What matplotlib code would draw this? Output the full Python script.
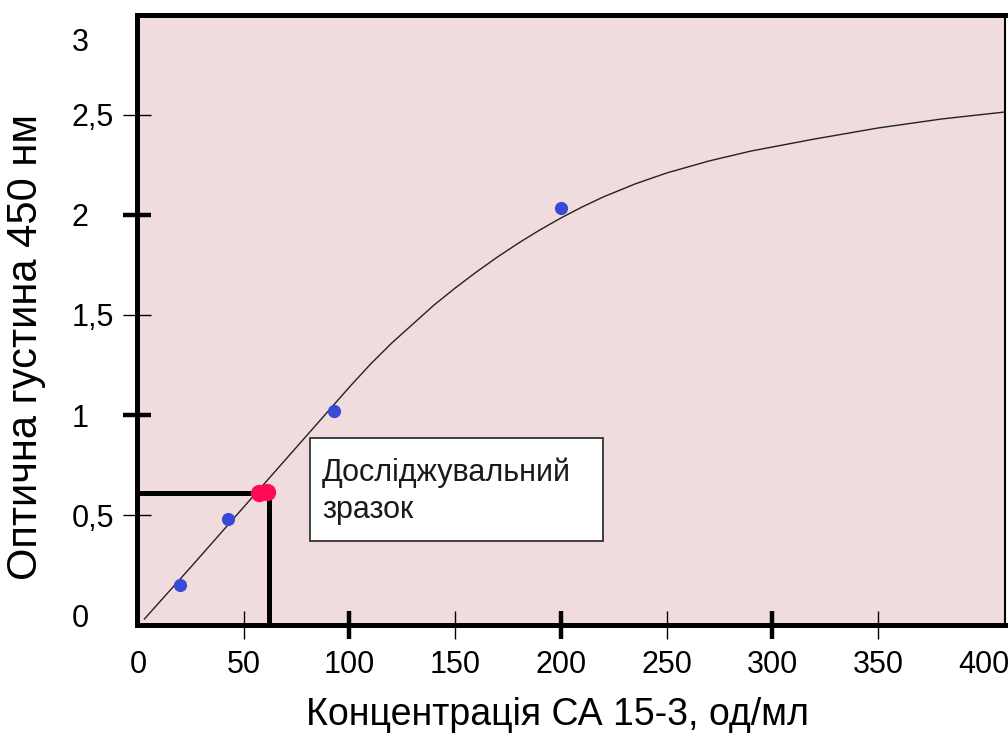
import matplotlib
matplotlib.use("Agg")
import matplotlib.pyplot as plt
from matplotlib.patches import Rectangle

plt.rcParams["font.family"] = ["Liberation Sans", "DejaVu Sans"]

# калібрувальна крива
curve_conc = [3, 25, 50, 75, 100, 110, 120, 130, 140, 150, 160, 170, 180, 190,
              200, 210, 220, 235, 250, 270, 290, 320, 350, 380, 410]
curve_od = [-0.02, 0.24, 0.54, 0.84, 1.14, 1.255, 1.36, 1.455, 1.55, 1.635,
            1.715, 1.79, 1.86, 1.925, 1.985, 2.04, 2.09, 2.155, 2.21, 2.27,
            2.32, 2.38, 2.435, 2.48, 2.515]

# стандарти
std_conc = [20, 42.5, 92.5, 200]
std_od = [0.15, 0.48, 1.02, 2.035]

# досліджуваний зразок
sample_conc = [57, 61]
sample_od = [0.61, 0.615]
sample_x = 62
sample_y = 0.61

x_major = [0, 100, 200, 300, 400]
x_minor = [50, 150, 250, 350]
y_major = [0, 1, 2]
y_minor = [0.5, 1.5, 2.5]

fig = plt.figure(figsize=(10.08, 7.38), dpi=100)
ax = fig.add_axes([0.1359, 0.1531, 0.8611, 0.8266])
ax.set_facecolor("#f0dcdc")
ax.set_xlim(-0.5, 410)
ax.set_ylim(-0.05, 3.0)

ax.plot(curve_conc, curve_od, color="#222222", lw=1.0, zorder=3)
ax.plot(std_conc, std_od, "o", color="#3a48d6", ms=9.5, mec="none", zorder=4)

# лінії від зразка до осей
ax.plot([-0.5, sample_x], [sample_y, sample_y], color="black", lw=3.6,
        solid_capstyle="butt", zorder=3)
ax.plot([sample_x, sample_x], [-0.05, sample_y], color="black", lw=3.6,
        solid_capstyle="butt", zorder=3)
ax.plot(sample_conc, sample_od, "o", color="#ff0a55", ms=12.5, mec="none", zorder=5)

# рамка з підписом
ax.add_patch(Rectangle((0.1993, 0.1377), 0.3376, 0.1689, transform=ax.transAxes,
                       facecolor="white", edgecolor="#333333", lw=1.3, zorder=6))
ax.text(0.2131, 0.2197, "Досліджувальний\nзразок", transform=ax.transAxes,
        fontsize=22, va="center", ha="left", linespacing=1.3, color="#1a1a1a",
        zorder=7)

for side in ["left", "bottom", "top"]:
    ax.spines[side].set_linewidth(3.6)
ax.spines["right"].set_linewidth(1.5)

ax.set_xticks(x_major)
ax.set_xticklabels([str(v) for v in x_major])
ax.set_xticks(x_minor, minor=True)
ax.set_xticklabels([str(v) for v in x_minor], minor=True)
ax.set_yticks(y_major)
ax.set_yticklabels([str(v) for v in y_major])
ax.set_yticks(y_minor, minor=True)
ax.set_yticklabels([str(v).replace(".", ",") for v in y_minor], minor=True)

ax.tick_params(axis="x", which="major", direction="inout", length=20, width=3.2,
               labelsize=22, pad=8)
ax.tick_params(axis="x", which="minor", direction="inout", length=20, width=1.0,
               labelsize=22, pad=8)
ax.tick_params(axis="y", which="major", direction="inout", length=20, width=3.2,
               labelsize=22, pad=37)
ax.tick_params(axis="y", which="minor", direction="inout", length=20, width=1.0,
               labelsize=22, pad=37)
for lab in ax.get_yticklabels() + ax.get_yticklabels(minor=True):
    lab.set_horizontalalignment("left")

# без рисок на 0 і 400
xt = ax.xaxis.get_major_ticks()
xt[0].tick1line.set_visible(False)
xt[-1].tick1line.set_visible(False)
ax.yaxis.get_major_ticks()[0].tick1line.set_visible(False)

ax.text(-0.0749, 2.86, "3", transform=ax.get_yaxis_transform(), fontsize=22,
        ha="left", va="center")

ax.set_xlabel("Концентрація СА 15-3, од/мл", fontsize=27)
ax.xaxis.set_label_coords(0.4839, -0.118)
ax.set_ylabel("Оптична густина 450 нм", fontsize=30)
ax.yaxis.set_label_coords(-0.105, 0.4557)

fig.savefig("out.png", dpi=100)
